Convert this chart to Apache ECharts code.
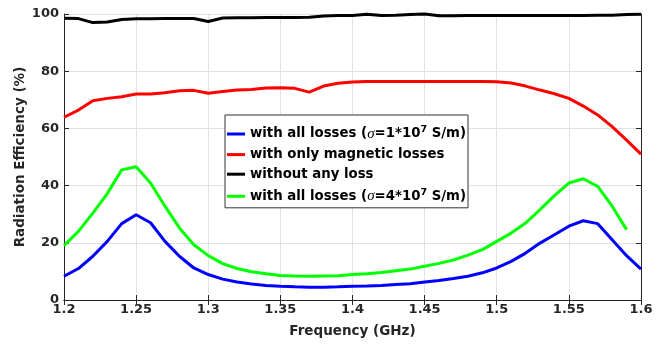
<!DOCTYPE html>
<html>
<head>
<meta charset="utf-8">
<script src="https://cdn.jsdelivr.net/npm/echarts@6/dist/echarts.min.js"></script>
<style>
html,body{margin:0;padding:0;background:#fff;}
#chart{width:670px;height:346px;}
</style>
</head>
<body>
<div id="chart"></div>
<script>
const freq = [1.20,1.21,1.22,1.23,1.24,1.25,1.26,1.27,1.28,1.29,
              1.30,1.31,1.32,1.33,1.34,1.35,1.36,1.37,1.38,1.39,
              1.40,1.41,1.42,1.43,1.44,1.45,1.46,1.47,1.48,1.49,
              1.50,1.51,1.52,1.53,1.54,1.55,1.56,1.57,1.58,1.59,1.60];
const allLosses1 = [8.3,11.0,15.3,20.5,26.7,29.8,27.0,20.5,15.3,11.2,
                    8.9,7.3,6.3,5.6,5.1,4.8,4.6,4.5,4.5,4.6,
                    4.8,4.9,5.1,5.4,5.7,6.3,6.8,7.5,8.3,9.5,
                    11.2,13.5,16.4,19.9,22.8,25.8,27.7,26.7,21.1,15.5,10.8];
const magneticOnly = [63.9,66.4,69.7,70.5,71.1,72.0,72.0,72.5,73.2,73.3,
                      72.3,72.9,73.4,73.6,74.1,74.2,74.0,72.7,74.8,75.8,
                      76.2,76.4,76.4,76.4,76.4,76.4,76.4,76.4,76.4,76.4,
                      76.3,75.9,74.8,73.4,72.1,70.5,67.8,64.7,60.6,55.9,51.0];
const noLoss = [98.5,98.4,97.0,97.2,98.1,98.3,98.3,98.4,98.4,98.4,
                97.4,98.6,98.7,98.7,98.8,98.8,98.8,98.9,99.3,99.5,
                99.5,99.9,99.5,99.6,99.8,100,99.4,99.4,99.5,99.5,
                99.5,99.5,99.5,99.5,99.5,99.5,99.5,99.6,99.6,99.8,99.9];
const allLosses4 = [19.0,24.0,30.4,37.2,45.5,46.6,40.9,32.8,25.2,19.3,
                    15.5,12.7,11.0,9.9,9.2,8.6,8.4,8.3,8.4,8.5,
                    8.9,9.2,9.6,10.2,10.8,11.8,12.8,14.0,15.7,17.6,
                    20.5,23.4,26.9,31.6,36.5,40.9,42.4,39.7,32.8,24.6,null];

const names = ['with all losses (σ=1*10^7 S/m)','with only magnetic losses','without any loss','with all losses (σ=4*10^7 S/m)'];
const colors = ['#0000ff','#ff0000','#000000','#00ff00'];
const seriesValues = [allLosses1, magneticOnly, noLoss, allLosses4];

const legendRich = {
  0: '{t|with all losses (}{s|σ}{t|=1*10}{sup|7}{t| S/m)}',
  1: '{t|with only magnetic losses}',
  2: '{t|without any loss}',
  3: '{t|with all losses (}{s|σ}{t|=4*10}{sup|7}{t| S/m)}'
};

const FONT = 'DejaVu Sans';
const AX = '#262626';

const chart = echarts.init(document.getElementById('chart'), null, {renderer:'canvas'});

const baseX = {
  type:'value', min:1.2, max:1.6, interval:0.05
};
const baseY = {
  type:'value', min:0, max:100, interval:20
};

chart.setOption({
  animation:false,
  backgroundColor:'#ffffff',
  grid:{left:64, right:29, top:14, bottom:46, containLabel:false},
  xAxis:[
    Object.assign({}, baseX, {
      position:'bottom',
      name:'Frequency (GHz)', nameLocation:'middle', nameGap:24, nameMoveOverlap:false,
      nameTextStyle:{fontFamily:FONT, fontWeight:'bold', fontSize:13.5, color:AX},
      axisLine:{show:true, lineStyle:{color:AX, width:1}},
      axisTick:{show:true, inside:true, length:5, lineStyle:{color:AX}},
      axisLabel:{show:true, margin:3, fontFamily:FONT, fontWeight:'bold', fontSize:13, color:AX,
        formatter:v=>String(+v.toFixed(2))},
      splitLine:{show:true, lineStyle:{color:'#e2e2e2', width:1}}
    }),
    Object.assign({}, baseX, {
      position:'top',
      axisLine:{show:true, lineStyle:{color:AX, width:1}},
      axisTick:{show:true, inside:true, length:5, lineStyle:{color:AX}},
      axisLabel:{show:false},
      splitLine:{show:false}
    })
  ],
  yAxis:[
    Object.assign({}, baseY, {
      position:'left',
      name:'Radiation Efficiency (%)', nameLocation:'middle', nameGap:37, nameMoveOverlap:false,
      nameTextStyle:{fontFamily:FONT, fontWeight:'bold', fontSize:13.5, color:AX},
      axisLine:{show:true, lineStyle:{color:AX, width:1}},
      axisTick:{show:true, inside:true, length:5, lineStyle:{color:AX}},
      axisLabel:{show:true, margin:5, fontFamily:FONT, fontWeight:'bold', fontSize:13, color:AX},
      splitLine:{show:true, lineStyle:{color:'#e2e2e2', width:1}}
    }),
    Object.assign({}, baseY, {
      position:'right',
      axisLine:{show:true, lineStyle:{color:AX, width:1}},
      axisTick:{show:true, inside:true, length:5, lineStyle:{color:AX}},
      axisLabel:{show:false},
      splitLine:{show:false}
    })
  ],
  legend:{
    orient:'vertical',
    left:225, top:115,
    padding:[10,2,4,2],
    itemGap:6.6,
    itemWidth:18, itemHeight:3,
    icon:'rect',
    backgroundColor:'#ffffff',
    borderColor:'#333333', borderWidth:1,
    data:names,
    formatter:function(name){ return legendRich[names.indexOf(name)]; },
    textStyle:{
      color:'#000',
      rich:{
        t:{fontFamily:FONT, fontWeight:'bold', fontSize:13.3, color:'#000', lineHeight:18},
        s:{fontFamily:'Liberation Serif', fontStyle:'italic', fontWeight:'normal', fontSize:15, color:'#000', lineHeight:18},
        sup:{fontFamily:FONT, fontWeight:'bold', fontSize:9.5, color:'#000', lineHeight:10, verticalAlign:'top'}
      }
    }
  },
  series: seriesValues.map((vals, i) => ({
    name:names[i],
    type:'line',
    xAxisIndex:0, yAxisIndex:0,
    data: freq.map((f, j) => [f, vals[j]]),
    showSymbol:false, symbol:'none',
    connectNulls:false,
    lineStyle:{color:colors[i], width:3},
    itemStyle:{color:colors[i]},
    clip:false,
    z: 2 + i
  }))
});
</script>
</body>
</html>
